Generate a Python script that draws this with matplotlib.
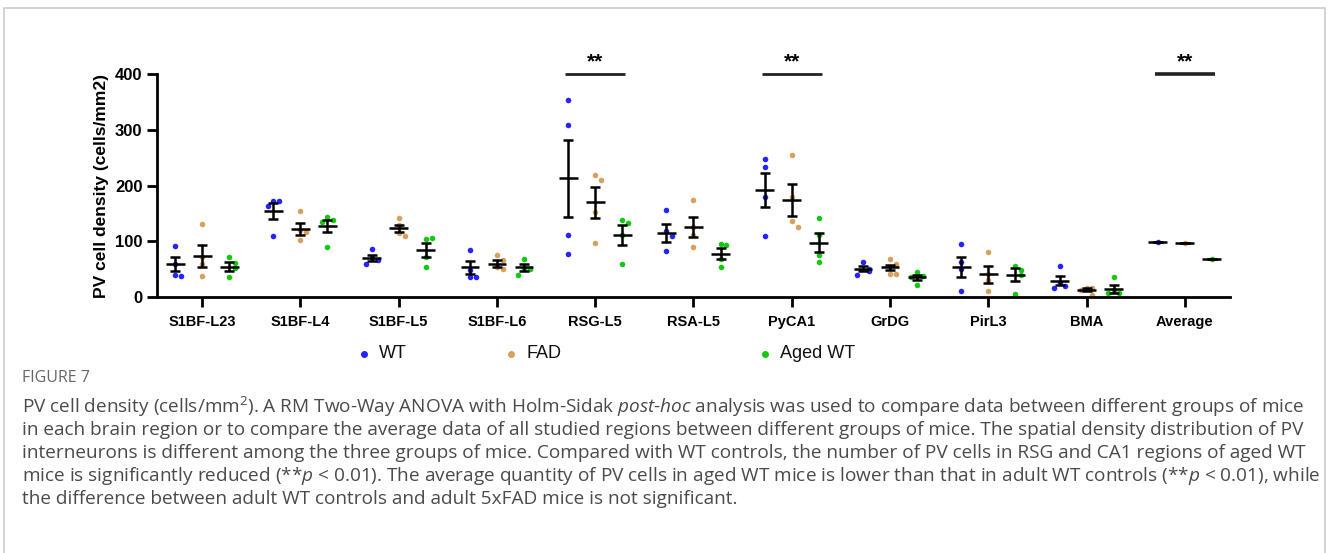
import numpy as np
import matplotlib
matplotlib.use("Agg")
from matplotlib import pyplot as plt
from matplotlib.patches import Rectangle

# data
regions = ["S1BF-L23", "S1BF-L4", "S1BF-L5", "S1BF-L6", "RSG-L5", "RSA-L5",
           "PyCA1", "GrDG", "PirL3", "BMA", "Average"]
groups = ["WT", "FAD", "Aged WT"]
colors = ["#2424ff", "#d9a05b", "#12c912"]

wt_points = [[92, 60, 40, 38], [173, 173, 163, 110], [86, 70, 66, 59], [84, 48, 35, 35],
             [354, 308, 111, 77], [156, 118, 110, 83], [247, 233, 180, 110], [62, 51, 47, 40],
             [95, 63, 51, 11], [56, 25, 20, 16], [99]]
fad_points = [[131, 72, 60, 38], [155, 120, 117, 102], [141, 129, 114, 109], [75, 66, 53, 51],
              [219, 210, 152, 97], [174, 126, 111, 89], [255, 180, 137, 126], [68, 60, 41, 41],
              [80, 42, 30, 10], [17, 16, 13, 4], [96]]
aged_points = [[72, 61, 52, 35], [143, 138, 135, 90], [104, 105, 72, 53], [69, 51, 51, 40],
               [139, 132, 111, 60], [95, 93, 69, 54], [141, 111, 75, 63], [44, 38, 35, 22],
               [56, 48, 40, 5], [36, 12, 7, 7], [69]]

wt_mean = [59, 154, 70, 53, 213, 115, 192, 51, 54, 29, 99]
wt_sem = [13, 14, 5, 11, 69, 16, 30, 4, 18, 8, 0]
fad_mean = [74, 122, 123, 60, 170, 125, 174, 53, 41, 13, 96]
fad_sem = [20, 10, 6, 7, 28, 18, 29, 5, 15, 3, 0]
aged_mean = [54, 127, 84, 53, 111, 78, 97, 35, 40, 14, 69]
aged_sem = [8, 11, 12, 6, 18, 9, 17, 5, 12, 7, 0]

# pairs marked ** (WT vs Aged WT)
sig_regions = ["RSG-L5", "PyCA1", "Average"]

caption_title = "FIGURE 7"
caption_lines = [
    r"PV cell density (cells/mm$^{2}$). A RM Two-Way ANOVA with Holm-Sidak $\mathit{post}$-$\mathit{hoc}$ analysis was used to compare data between different groups of mice",
    "in each brain region or to compare the average data of all studied regions between different groups of mice. The spatial density distribution of PV",
    "interneurons is different among the three groups of mice. Compared with WT controls, the number of PV cells in RSG and CA1 regions of aged WT",
    r"mice is significantly reduced (**$\mathit{p}$ < 0.01). The average quantity of PV cells in aged WT mice is lower than that in adult WT controls (**$\mathit{p}$ < 0.01), while",
    "the difference between adult WT controls and adult 5xFAD mice is not significant.",
]

plt.rcParams['mathtext.fontset'] = 'custom'
plt.rcParams['mathtext.rm'] = 'Open Sans'
plt.rcParams['mathtext.it'] = 'Open Sans:italic'

fig = plt.figure(figsize=(13.3, 5.53), dpi=100)
ax = fig.add_axes([157 / 1330, 1 - 297 / 553, (1230 - 157) / 1330, (297 - 74) / 553])

x = np.arange(len(regions))
offsets = [-0.275, 0.0, 0.275]
all_points = [wt_points, fad_points, aged_points]
all_means = [wt_mean, fad_mean, aged_mean]
all_sems = [wt_sem, fad_sem, aged_sem]


def spread(vals, width=0.06, close=12):
    # simple swarm: push apart points with close values
    xs = []
    placed = []
    for v in vals:
        n = sum(1 for p in placed if abs(p - v) < close)
        if n == 0:
            xs.append(0.0)
        else:
            xs.append(width * ((n + 1) // 2) * (1 if n % 2 else -1))
        placed.append(v)
    return np.array(xs)


for g in range(3):
    for i in range(len(regions)):
        vals = np.array(all_points[g][i])
        xpos = x[i] + offsets[g] + spread(vals)
        ax.scatter(xpos, vals, s=16, color=colors[g], zorder=2, linewidths=0)
    xc = x + offsets[g]
    ax.errorbar(xc, all_means[g], yerr=all_sems[g], fmt='none', ecolor='black',
                elinewidth=1.8, capsize=3.5, capthick=1.8, zorder=3)
    ax.hlines(all_means[g], xc - 0.095, xc + 0.095, color='black', linewidth=1.8, zorder=3)

for r in sig_regions:
    i = regions.index(r)
    lw = 2.6 if r == "Average" else 2.0
    ax.plot([x[i] + offsets[0] - 0.03, x[i] + offsets[2] + 0.03], [400, 400], color='#222222',
            linewidth=lw, clip_on=False, solid_capstyle='butt')
    ax.text(x[i], 405, "**", ha='center', va='bottom', fontsize=15, fontweight='bold',
            family='Liberation Sans', clip_on=False)

ax.set_xlim(-0.46, len(regions) - 1 + 0.46)
ax.set_ylim(0, 400)
ax.set_yticks([0, 100, 200, 300, 400])
ax.set_xticks(x)
ax.set_xticklabels(regions, fontsize=10.5, fontweight='bold', family='Liberation Sans')
for lab in ax.get_yticklabels():
    lab.set_fontsize(12)
    lab.set_fontweight('bold')
    lab.set_family('Liberation Sans')
ax.set_ylabel("PV cell density (cells/mm2)", fontsize=12.5, fontweight='bold',
              family='Liberation Sans', labelpad=4)
ax.spines['top'].set_visible(False)
ax.spines['right'].set_visible(False)
ax.spines['left'].set_linewidth(2)
ax.spines['bottom'].set_linewidth(2)
ax.tick_params(axis='both', width=2, length=7, color='black')
ax.tick_params(axis='x', pad=6)

# legend
leg_x = [364, 511, 765]
for g in range(3):
    fig.lines.append(plt.Line2D([leg_x[g] / 1330], [1 - 354 / 553], marker='o', markersize=4,
                                color=colors[g], linestyle='none', transform=fig.transFigure))
    fig.text((leg_x[g] + 15) / 1330, 1 - 354 / 553, groups[g], fontsize=13, va='center',
             family=['Liberation Sans Narrow', 'Liberation Sans'], color='#111111')

# caption
fig.text(22 / 1330, 1 - 378 / 553, caption_title, fontsize=11.5, color='#666666',
         family='Open Sans', va='center')
for k, line in enumerate(caption_lines):
    fig.text(22 / 1330, 1 - (407 + 23 * k) / 553, line, fontsize=13.7, color='#4a4a4a',
             family='Open Sans', va='center')

# frame around the figure panel
fig.patches.append(Rectangle((4 / 1330, -0.2), 1321 / 1330, 1.2 - 8 / 553, fill=False,
                             edgecolor='#cccccc', linewidth=1.2, transform=fig.transFigure))

fig.savefig("out.png", dpi=100)
